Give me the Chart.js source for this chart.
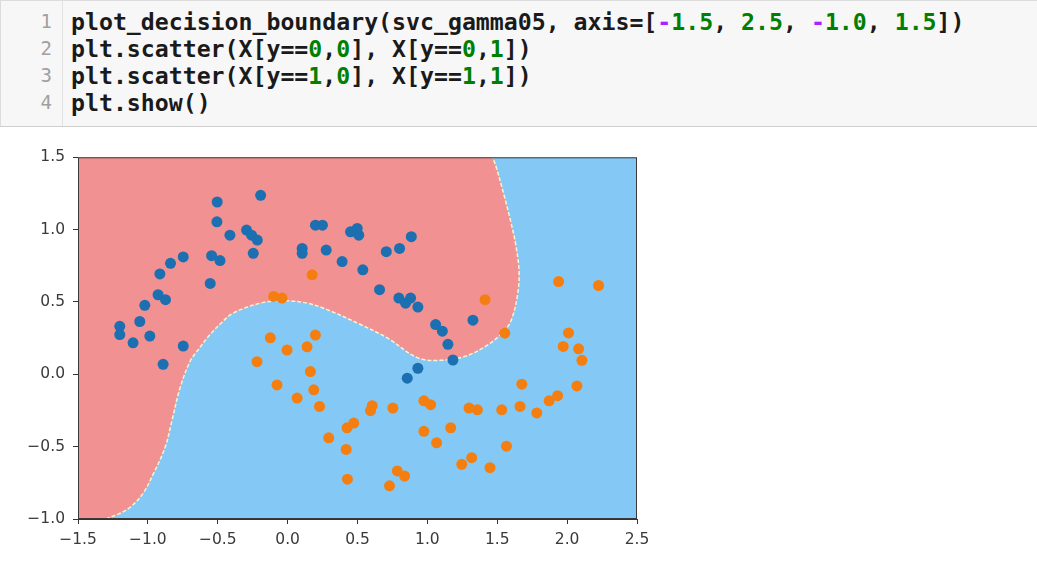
<!DOCTYPE html>
<html>
<head>
<meta charset="utf-8">
<script src="https://cdn.jsdelivr.net/npm/chart.js@4/dist/chart.umd.min.js"></script>
<style>
  body { margin: 0; background: #fff; width: 1037px; height: 561px; overflow: hidden; position: relative; }
  #cell { position: absolute; left: 0; top: 0; width: 1036px; height: 125px; background: #f7f7f7;
          border: 1px solid #dcdcdc; border-bottom: 1px solid #cfcfcf; }
  #gutter { position: absolute; left: 0; top: 0; width: 61px; height: 125px; border-right: 1px solid #e2e2e2; }
  pre { margin: 0; position: absolute; top: 7px; font-family: "DejaVu Sans Mono", monospace;
        font-size: 23.2px; line-height: 27px; color: #1a1a1a; font-weight: bold; }
  #nums { left: 0; width: 51px; text-align: right; color: #a0a0a0; font-size: 19px; font-weight: normal; }
  #code { left: 70px; }
  .n { color: #008000; }
  .o { color: #aa22ff; }
  #wrap { position: absolute; left: 0; top: 140px; width: 660px; height: 420px; }
</style>
</head>
<body>
<div id="cell">
  <div id="gutter"></div>
  <pre id="nums">1
2
3
4</pre>
  <pre id="code">plot_decision_boundary(svc_gamma05, axis=[<span class="o">-</span><span class="n">1.5</span>, <span class="n">2.5</span>, <span class="o">-</span><span class="n">1.0</span>, <span class="n">1.5</span>])
plt.scatter(X[y==<span class="n">0</span>,<span class="n">0</span>], X[y==<span class="n">0</span>,<span class="n">1</span>])
plt.scatter(X[y==<span class="n">1</span>,<span class="n">0</span>], X[y==<span class="n">1</span>,<span class="n">1</span>])
plt.show()</pre>
</div>
<div id="wrap"><canvas id="plot" width="660" height="420"></canvas></div>
<script>
// axis limits and ticks
const xTicks = [-1.5, -1.0, -0.5, 0.0, 0.5, 1.0, 1.5, 2.0, 2.5];
const yTicks = [-1.0, -0.5, 0.0, 0.5, 1.0, 1.5];

// class 0 (blue)
const class0X = [-0.193, -0.504, -0.506, -0.413, -0.294, -0.258, -0.217, -0.246, -0.747, -0.838,
  -0.914, -0.544, -0.484, -0.554, -0.927, -0.874, -1.022, -1.058, -1.201, -1.201,
  -0.986, -1.106, -0.747, -0.891, 0.104, 0.104, 0.199, 0.249, 0.276, 0.390,
  0.450, 0.498, 0.509, 0.538, 0.706, 0.801, 0.885, 0.658, 0.796, 0.844,
  0.880, 0.932, 1.059, 1.107, 1.147, 1.326, 1.183, 0.932, 0.856];
const class0Y = [1.237, 1.191, 1.054, 0.962, 0.997, 0.962, 0.928, 0.836, 0.811, 0.767,
  0.694, 0.820, 0.786, 0.628, 0.550, 0.516, 0.477, 0.365, 0.332, 0.275,
  0.264, 0.218, 0.195, 0.069, 0.870, 0.836, 1.031, 1.031, 0.859, 0.779,
  0.985, 1.008, 0.962, 0.722, 0.848, 0.870, 0.951, 0.585, 0.527, 0.492,
  0.527, 0.465, 0.344, 0.298, 0.207, 0.374, 0.099, 0.042, -0.027];

// class 1 (orange)
const class1X = [0.175, -0.100, -0.040, -0.124, 0.199, -0.004, 0.139, -0.219, 0.163, -0.076,
  0.187, 0.068, 0.228, 0.294, 0.473, 0.425, 0.419, 0.428, 0.605, 0.593,
  0.753, 0.729, 0.785, 0.837, 0.975, 1.023, 0.975, 1.066, 1.167, 1.413,
  1.554, 1.939, 2.225, 2.010, 1.972, 2.082, 2.106, 1.676, 2.070, 1.932,
  1.871, 1.298, 1.358, 1.532, 1.663, 1.783, 1.566, 1.317, 1.246, 1.448];
const class1Y = [0.688, 0.538, 0.527, 0.252, 0.271, 0.168, 0.190, 0.087, 0.019, -0.073,
  -0.107, -0.164, -0.222, -0.439, -0.337, -0.370, -0.519, -0.725, -0.217, -0.251,
  -0.233, -0.771, -0.668, -0.703, -0.183, -0.210, -0.394, -0.473, -0.370, 0.516,
  0.284, 0.641, 0.614, 0.286, 0.193, 0.176, 0.097, -0.068, -0.080, -0.148,
  -0.183, -0.233, -0.245, -0.245, -0.222, -0.267, -0.497, -0.576, -0.622, -0.645];

// decision boundary, from the bottom edge round to the top edge
const boundaryX = [-1.30, -1.15, -1.04, -0.960, -0.876, -0.828, -0.769, -0.697, -0.640, -0.560,
  -0.470, -0.387, -0.195, -0.028, 0.139, 0.283, 0.522, 0.713, 0.928, 1.095,
  1.274, 1.418, 1.525, 1.597, 1.645, 1.656, 1.633, 1.597, 1.549, 1.489, 1.466];
const boundaryY = [-1.0, -0.935, -0.830, -0.686, -0.503, -0.320, -0.091, 0.092, 0.170, 0.270,
  0.360, 0.425, 0.492, 0.509, 0.492, 0.447, 0.344, 0.252, 0.115, 0.097,
  0.126, 0.195, 0.275, 0.367, 0.550, 0.710, 0.893, 1.053, 1.237, 1.443, 1.5];

const toPts = (xs, ys) => xs.map((x, i) => ({ x: x, y: ys[i] }));
const boundary = toPts(boundaryX, boundaryY);
// red region: top-left corner, bottom-left corner, then the boundary
const redRegion = [{ x: xTicks[0], y: yTicks[yTicks.length - 1] }, { x: xTicks[0], y: yTicks[0] }].concat(boundary);

const fmt = (v) => Number(v).toFixed(1).replace('-', '\u2212');

const frame = {
  id: 'frame',
  beforeDatasetsDraw(chart) {
    const a = chart.chartArea, ctx = chart.ctx;
    ctx.save();
    ctx.fillStyle = '#84c9f6';
    ctx.fillRect(a.left, a.top, a.right - a.left, a.bottom - a.top);
    ctx.restore();
  },
  afterDatasetsDraw(chart) {
    const a = chart.chartArea, ctx = chart.ctx;
    ctx.save();
    ctx.strokeStyle = '#3a3a3a';
    ctx.lineWidth = 1;
    ctx.strokeRect(a.left + 0.5, a.top + 0.5, a.right - a.left - 1, a.bottom - a.top - 1);
    ctx.restore();
  }
};

new Chart(document.getElementById('plot').getContext('2d'), {
  type: 'scatter',
  data: {
    datasets: [
      { data: toPts(class1X, class1Y), backgroundColor: '#f47f10', borderWidth: 0, pointRadius: 5.5, order: 0 },
      { data: toPts(class0X, class0Y), backgroundColor: '#1c6fb0', borderWidth: 0, pointRadius: 5.5, order: 1 },
      { data: boundary, showLine: true, pointRadius: 0, borderColor: 'rgba(255,248,205,0.95)', borderWidth: 1.5,
        borderDash: [4, 2], fill: false, tension: 0.35, order: 2 },
      { data: redRegion, showLine: true, pointRadius: 0, borderWidth: 0, borderColor: 'rgba(0,0,0,0)',
        backgroundColor: '#f29192', fill: 'shape', tension: 0.35, order: 3 }
    ]
  },
  options: {
    responsive: false,
    animation: false,
    layout: { padding: { top: 15, right: 23, left: 0, bottom: 0 } },
    plugins: { legend: { display: false }, tooltip: { enabled: false } },
    scales: {
      x: {
        type: 'linear', min: xTicks[0], max: xTicks[xTicks.length - 1],
        afterBuildTicks: (s) => { s.ticks = xTicks.map(v => ({ value: v })); },
        afterFit: (s) => { s.height = 41; },
        grid: { drawOnChartArea: false, tickLength: 5, tickColor: '#333', lineWidth: 1 },
        border: { display: true, color: '#333' },
        ticks: { color: '#3a3a3a', padding: 7, maxRotation: 0, autoSkip: false,
          font: { family: 'DejaVu Sans', size: 15.5 }, callback: fmt }
      },
      y: {
        type: 'linear', min: yTicks[0], max: yTicks[yTicks.length - 1],
        afterBuildTicks: (s) => { s.ticks = yTicks.map(v => ({ value: v })); },
        afterFit: (s) => { s.width = 78; },
        grid: { drawOnChartArea: false, tickLength: 5, tickColor: '#333', lineWidth: 1 },
        border: { display: true, color: '#333' },
        ticks: { color: '#3a3a3a', padding: 8, autoSkip: false,
          font: { family: 'DejaVu Sans', size: 15.5 }, callback: fmt }
      }
    }
  },
  plugins: [frame]
});
</script>
</body>
</html>
